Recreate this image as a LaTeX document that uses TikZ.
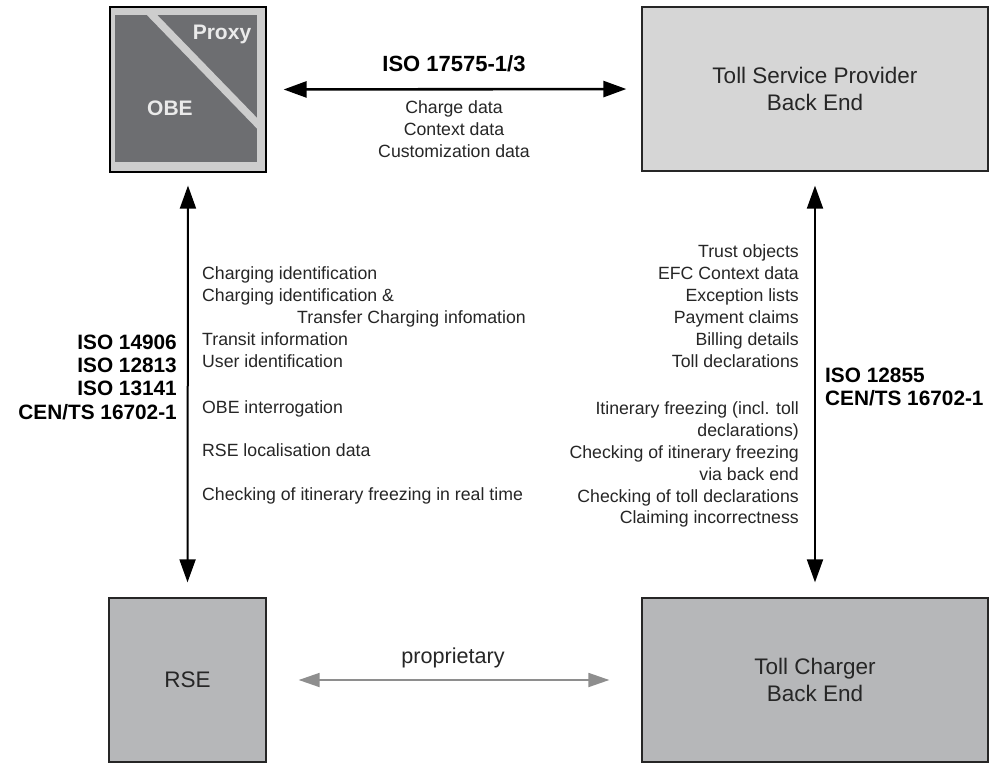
\documentclass[tikz,border=0pt]{standalone}
\usepackage{fontspec}
\setmainfont{Liberation Sans}
\usetikzlibrary{arrows.meta}

\definecolor{ink}{HTML}{262626}
\definecolor{tspfill}{HTML}{D6D6D6}
\definecolor{boxfill}{HTML}{B6B7B9}
\definecolor{obedark}{HTML}{6D6E71}
\definecolor{obeband}{HTML}{CDCDCD}
\definecolor{obetext}{HTML}{EAEAEA}
\definecolor{propgray}{HTML}{8E8E8E}

\tikzset{
  entity/.style={draw=black!85, line width=1.3pt, inner sep=0pt, align=center,
    text=ink, font=\fontsize{22.5}{27}\selectfont},
  link/.style={line width=2pt, draw=black,
    {Triangle[length=23pt,width=16pt]}-{Triangle[length=23pt,width=16pt]}},
  proplink/.style={line width=1.8pt, draw=propgray,
    {Triangle[length=21pt,width=14pt]}-{Triangle[length=21pt,width=14pt]}},
  item/.style={inner sep=0pt, text=ink, font=\fontsize{17.7}{22}\selectfont},
  std/.style={inner sep=0pt, text=black, font=\bfseries\fontsize{20.8}{24}\selectfont},
}

\begin{document}
\begin{tikzpicture}[x=1pt,y=-1pt]
\useasboundingbox[fill=white] (0,0) rectangle (994,763);

% On-board equipment with its proxy corner
\node[draw=black, line width=1.2pt, fill=obeband, minimum width=156pt,
      minimum height=165pt, inner sep=0pt] (obe) at (188,89.5) {};
\fill[obedark] (115,15) rectangle (257,162);
\begin{scope}
  \clip (115,15) rectangle (257,162);
  \draw[obeband, line width=7.5pt] (144,6.7) -- (266,132.5);
\end{scope}
\node[inner sep=0pt, text=obetext, font=\bfseries\fontsize{21}{25}\selectfont]
  (proxy) at (222,34) {Proxy};
\node[inner sep=0pt, text=obetext, font=\bfseries\fontsize{21}{25}\selectfont]
  (obelabel) at (170,108) {OBE};

% Back ends and roadside equipment
\node[entity, fill=tspfill, minimum width=346pt, minimum height=164pt]
  (tsp) at (815,89) {Toll Service Provider\\Back End};
\node[entity, fill=boxfill, minimum width=157pt, minimum height=164pt]
  (rse) at (187.5,680) {RSE};
\node[entity, fill=boxfill, minimum width=346pt, minimum height=164pt]
  (tc) at (815,680) {Toll Charger\\Back End};

% Interfaces
\draw[link, line width=2.6pt, shorten <=17pt, shorten >=15pt] (obe.east) -- (tsp.west);
\draw[link, shorten <=13pt, shorten >=15pt] (obe.south) -- (rse.north);
\draw[link, shorten <=14pt, shorten >=15pt] (tsp.south) -- (tc.north);
\draw[proplink, shorten <=32pt, shorten >=32pt] (rse.east) -- (tc.west);

% Interface between OBE and TSP back end
\node[std, font=\bfseries\fontsize{22}{26}\selectfont, anchor=base]
  (isotop) at (454,71) {ISO 17575-1/3};
\node[item, anchor=base] (t1) at (454,113) {Charge data};
\node[item, anchor=base] (t2) at (454,135) {Context data};
\node[item, anchor=base] (t3) at (454,157) {Customization data};

% Interface between OBE and RSE
\node[std, anchor=base east] (ls1) at (177,349) {ISO 14906};
\node[std, anchor=base east] (ls2) at (177,372) {ISO 12813};
\node[std, anchor=base east] (ls3) at (177,395) {ISO 13141};
\node[std, anchor=base east] (ls4) at (177,419) {CEN/TS 16702-1};

\node[item, anchor=base west] (l1) at (202,279) {Charging identification};
\node[item, anchor=base west] (l2) at (202,301) {Charging identification \&};
\node[item, anchor=base west] (l3) at (297,323) {Transfer Charging infomation};
\node[item, anchor=base west] (l4) at (202,345) {Transit information};
\node[item, anchor=base west] (l5) at (202,367) {User identification};
\node[item, anchor=base west] (l6) at (202,413) {OBE interrogation};
\node[item, anchor=base west] (l7) at (202,456) {RSE localisation data};
\node[item, anchor=base west] (l8) at (202,500) {Checking of itinerary freezing in real time};

% Interface between the two back ends
\node[std, anchor=base west] (rs1) at (825,382) {ISO 12855};
\node[std, anchor=base west] (rs2) at (825,405) {CEN/TS 16702-1};

\node[item, anchor=base east] (r1) at (799,257) {Trust objects};
\node[item, anchor=base east] (r2) at (799,279) {EFC Context data};
\node[item, anchor=base east] (r3) at (799,301) {Exception lists};
\node[item, anchor=base east] (r4) at (799,323) {Payment claims};
\node[item, anchor=base east] (r5) at (799,345) {Billing details};
\node[item, anchor=base east] (r6) at (799,367) {Toll declarations};
\node[item, anchor=base east] (r7) at (799,414) {Itinerary freezing (incl. toll};
\node[item, anchor=base east] (r8) at (799,436) {declarations)};
\node[item, anchor=base east] (r9) at (799,458) {Checking of itinerary freezing};
\node[item, anchor=base east] (r10) at (799,480) {via back end};
\node[item, anchor=base east] (r11) at (799,502) {Checking of toll declarations};
\node[item, anchor=base east] (r12) at (799,523) {Claiming incorrectness};

% Proprietary link label
\node[item, font=\fontsize{21.6}{25}\selectfont, anchor=base] (prop) at (453,663) {proprietary};
\end{tikzpicture}
\end{document}
